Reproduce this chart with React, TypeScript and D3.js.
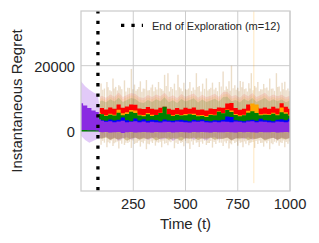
import * as d3 from "d3"

// time grid the curves were read on (exploration ends near t=81)
const timeSteps = [0, 20, 40, 60, 80, 90, ...d3.range(100, 1001, 20)]
const explorationEnd = 81

// upper edge of each noisy mean curve (null = not plotted yet)
const redTop = [null, null, null, null, null, 7000,
	7000, 6600, 7200, 6800, 8100, 7100, 7500, 8100, 8000, 6900,
	6700, 7300, 6800, 6600, 7100, 7400, 6800, 6500, 7000, 6600,
	7100, 6800, 7200, 6500, 6600, 6300, 6900, 6700, 7200, 7100,
	8400, 8600, 7000, 6500, 6800, 8100, 7600, 7200, 6900, 7200,
	6800, 7400, 6900, 8500, 7400, 6800]
const orangeTop = [null, null, null, null, null, 5600,
	5100, 4800, 5300, 5000, 6500, 5400, 5700, 6400, 6300, 5000,
	4900, 5500, 5000, 4900, 5600, 6900, 5000, 4800, 5200, 4900,
	5200, 5300, 5300, 4800, 4900, 4600, 5100, 5000, 6000, 5500,
	6600, 6300, 5200, 4800, 5000, 6200, 8400, 8100, 5100, 5300,
	5100, 5600, 5100, 7200, 5700, 5000]
const greenTop = [400, 500, 300, 300, 300, 5200,
	5100, 4600, 5000, 4700, 5600, 4800, 5200, 5900, 5500, 4700,
	4500, 5100, 4600, 4900, 5500, 7400, 5100, 4600, 5000, 4700,
	4800, 5100, 4900, 4500, 4600, 4300, 4900, 4800, 5900, 5400,
	6400, 5800, 4900, 4500, 4800, 5600, 6000, 5500, 4800, 5000,
	4900, 5300, 4800, 5700, 5300, 4700]
const blueTop = [null, null, null, null, null, 3400,
	3300, 3100, 3500, 3200, 3400, 4100, 3300, 3000, 3800, 3200,
	3600, 3100, 3400, 3300, 3000, 3500, 3200, 3100, 3300, 3400,
	3200, 3000, 3400, 3200, 3500, 3100, 3000, 3300, 3200, 3400,
	4400, 4300, 3300, 3100, 3000, 3200, 3400, 3100, 3700, 3300,
	3200, 3000, 3400, 3600, 3300, 3700]
const purpleTop = [8500, 7800, 7000, 6300, 5800, 3600,
	3100, 2800, 3000, 2700, 2900, 3100, 2700, 2800, 3000, 2700,
	2900, 2600, 2800, 2700, 2600, 2900, 2800, 2700, 2900, 2800,
	2700, 2600, 2900, 2800, 3000, 2700, 2600, 2800, 2700, 2900,
	2800, 2700, 2900, 2800, 2600, 2900, 3000, 2700, 2900, 2800,
	2700, 2600, 2900, 2800, 2700, 2900]
const purpleBottom = [300, 300, 200, 200, 100, -300,
	-400, -300, -500, -400, -300, -600, -400, -300, -500, -400,
	-300, -400, -500, -300, -400, -400, -300, -500, -400, -300,
	-400, -500, -300, -400, -300, -400, -500, -300, -400, -400,
	-300, -400, -500, -300, -400, -300, -400, -500, -300, -400,
	-400, -300, -500, -400, -300, -400]
const seriesFloor = -200

// continuous part of the shaded spread
const redBandTop = [null, null, null, null, null, 10500,
	10800, 10200, 11200, 10500, 11800, 10400, 11000, 11600, 11300, 10300,
	10100, 11000, 10400, 11200, 10600, 11700, 10300, 10900, 10100, 11300,
	10500, 11000, 11500, 10200, 11100, 10400, 10800, 11400, 10500, 11900,
	12000, 10600, 11000, 10200, 11400, 10600, 11600, 10400, 11000, 11700,
	10500, 11200, 10600, 11100, 10300, 10800]
const orangeBandTop = [null, null, null, null, null, 9800,
	10100, 9500, 10500, 9800, 11100, 9700, 10300, 10900, 10600, 9600,
	9400, 10300, 9700, 10500, 9900, 11000, 9600, 10200, 9400, 10600,
	9800, 10300, 10800, 9500, 10400, 9700, 10100, 10700, 9800, 11200,
	11300, 9900, 10300, 9500, 10700, 9900, 10900, 9700, 10300, 11000,
	9800, 10500, 9900, 10400, 9600, 10100]
const greenBandTop = [null, null, null, null, null, 9000,
	9300, 8800, 9700, 9000, 10200, 8900, 9500, 10100, 9800, 8800,
	8600, 9500, 8900, 9700, 9100, 10300, 8800, 9400, 8600, 9800,
	9000, 9500, 10000, 8700, 9600, 8900, 9300, 9900, 9000, 10400,
	10500, 9100, 9500, 8700, 9900, 9100, 10100, 8900, 9500, 10200,
	9000, 9700, 9100, 9600, 8800, 9300]
const bandBottom = [null, null, null, null, null, -2200,
	-2400, -2000, -2800, -2200, -2600, -2100, -3000, -2300, -2000, -2700,
	-2200, -2500, -2000, -2900, -2300, -2100, -2700, -2200, -2400, -3000,
	-2100, -2500, -2000, -2800, -2200, -2400, -2000, -2700, -2300, -2500,
	-2000, -2900, -2200, -2400, -2100, -2800, -2300, -2500, -2000, -2900,
	-2400, -2100, -2700, -2200, -2600, -2100]
const purpleBandTop = [15200, 13700, 12600, 11800, 11200, 7000,
	5200, 4800, 5000, 4700, 5300, 4900, 5100, 4800, 5200, 4900,
	5000, 4700, 5200, 4800, 5100, 4900, 4700, 5100, 4900, 5000,
	4800, 5200, 4900, 4700, 5100, 4900, 5300, 4800, 5000, 4900,
	5100, 4800, 5000, 4900, 5200, 4700, 5100, 4900, 4800, 5000,
	4900, 5100, 4700, 5000, 4900, 4800]
const purpleBandBottom = [-1500, -2800, -3600, -3000, -2400, -2200,
	-2200, -1800, -2600, -2000, -3000, -2300, -1900, -2700, -2100, -2500,
	-2000, -2800, -2200, -1900, -2600, -2400, -2000, -3100, -2200, -1800,
	-2500, -2100, -2700, -2000, -2300, -2900, -2100, -1900, -2600, -2200,
	-2000, -2800, -2300, -2100, -2500, -1900, -2700, -2200, -2000, -2600,
	-2300, -2100, -2800, -2000, -2400, -2200]

// tall narrow spikes of the spread
const spikeTimes = [96, 112, 124, 138, 153, 166, 181, 195, 208, 224,
	241, 256, 270, 284, 298, 313, 327, 342, 356, 371,
	386, 400, 416, 430, 447, 464, 478, 492, 507, 521,
	537, 552, 566, 582, 600, 614, 629, 645, 662, 680,
	695, 708, 720, 736, 750, 762, 775, 789, 803, 815,
	831, 846, 860, 874, 889, 903, 918, 935, 948, 962,
	975, 990]
const spikeTops = [14500, 13000, 15000, 12500, 16100, 13500, 14000, 12800, 15500, 13200,
	19000, 14200, 12800, 15200, 13000, 15600, 12500, 14200, 13400, 15000,
	12800, 17200, 17700, 13500, 14500, 17200, 13000, 14800, 12600, 15000,
	13300, 17700, 13800, 14500, 16100, 12800, 14800, 13200, 15000, 18200,
	13600, 15200, 20000, 14000, 13200, 15300, 15100, 13000, 14600, 17700,
	13800, 15000, 12800, 14400, 13300, 16100, 13000, 17700, 13600, 14800,
	15100, 13000]
const spikeBottoms = [-4200, -3600, -5000, -3800, -4600, -3500, -5400, -3900, -4300, -3700,
	-5200, -4000, -3600, -4800, -3800, -5600, -4100, -3700, -4500, -3600,
	-5000, -3900, -4400, -3500, -5300, -4000, -3700, -4700, -3800, -5500,
	-4200, -3600, -4900, -3900, -4300, -3700, -5100, -4000, -3600, -4600,
	-3800, -5400, -4100, -3700, -4500, -3600, -5000, -3900, -4400, -3500,
	-5200, -4000, -3700, -4800, -3800, -5600, -4100, -3600, -4500, -3700,
	-5000, -3900]
// shorter spikes in between
const minorSpikeTimes = [104, 130, 145, 159, 174, 188, 215, 232, 248, 263,
	277, 291, 305, 320, 335, 349, 363, 379, 393, 408,
	423, 438, 455, 471, 485, 500, 514, 529, 545, 559,
	574, 591, 607, 621, 637, 653, 671, 688, 701, 714,
	728, 743, 756, 769, 782, 796, 809, 823, 838, 853,
	867, 881, 896, 911, 926, 941, 955, 968, 982, 997]
const minorSpikeTops = [12600, 13400, 12200, 13000, 12400, 13600, 12100, 13200, 12800, 12300,
	13500, 12000, 12900, 12400, 13300, 12200, 12700, 13100, 12300, 13800,
	12100, 12900, 12500, 13400, 12200, 12800, 13000, 12300, 12600, 13500,
	12100, 12900, 12400, 13200, 12700, 12200, 13600, 12500, 12900, 12300,
	13100, 12600, 12200, 13400, 12800, 12100, 13000, 12500, 13300, 12200,
	12700, 13100, 12400, 12900, 12300, 13500, 12100, 12800, 12500, 12200]
const minorSpikeBottoms = [-3100, -3500, -2900, -3800, -3200, -3000, -3600, -3300, -2900, -3700,
	-3100, -3400, -3000, -3900, -3200, -2900, -3500, -3300, -3000, -3700,
	-3200, -2900, -3600, -3100, -3400, -3000, -3800, -3200, -2900, -3500,
	-3300, -3000, -3700, -3100, -3400, -2900, -3600, -3200, -3000, -3800,
	-3100, -3300, -2900, -3500, -3200, -3000, -3700, -3400, -3100, -2900,
	-3600, -3200, -3000, -3800, -3300, -3100, -3500, -2900, -3400, -3200]
// one lone wide spread of the orange run
const orangeSpike = [{ t: 827, low: -16000, high: 37000 }]

const xTicks = [250, 500, 750, 1000]
const yTicks = [0, 20000]
const legendLabel = "End of Exploration (m=12)"

const width = 319
const height = 243
const left = 81
const right = 290
const top = 11
const bottom = 191
const font = "'Liberation Sans', Arial, sans-serif"
const textColor = "#262626"
const gridColor = "#cccccc"

const App = () => {
	const x = d3.scaleLinear().domain([0, 1000]).range([left, right])
	const y = d3.scaleLinear().domain([-18400, 36750]).range([bottom, top])

	const band = (hi, lo, curve = d3.curveLinear) =>
		d3
			.area()
			.defined((_, i) => hi[i] != null && lo[i] != null)
			.curve(curve)
			.x((_, i) => x(timeSteps[i]))
			.y0((_, i) => y(lo[i]))
			.y1((_, i) => y(hi[i]))(timeSteps as any)

	const floor = timeSteps.map(() => seriesFloor)

	const bands = [
		{ hi: purpleBandTop, lo: purpleBandBottom, color: "#8a2be2", op: 0.25 },
		{ hi: redBandTop, lo: bandBottom, color: "#ff0000", op: 0.11 },
		{ hi: orangeBandTop, lo: bandBottom, color: "#ffa500", op: 0.11 },
		{ hi: greenBandTop, lo: bandBottom, color: "#008000", op: 0.15 },
	]
	const spikeColors = [
		{ color: "#ff0000", op: 0.08 },
		{ color: "#ffa500", op: 0.07 },
		{ color: "#008000", op: 0.08 },
	]
	const spikeSets = [
		{ times: spikeTimes, tops: spikeTops, bottoms: spikeBottoms, w: 1.4 },
		{ times: minorSpikeTimes, tops: minorSpikeTops, bottoms: minorSpikeBottoms, w: 1.2 },
	]
	const curves = [
		{ hi: redTop, lo: floor, color: "#ff0000" },
		{ hi: orangeTop, lo: floor, color: "#ffa500" },
		{ hi: greenTop, lo: floor, color: "#008000" },
		{ hi: blueTop, lo: floor, color: "#0000ff" },
		{ hi: purpleTop, lo: purpleBottom, color: "#8a2be2" },
	]

	return (
		<svg width={width} height={height} style={{ position: "absolute", left: 0, top: 0 }}>
			<defs>
				<clipPath id="plot">
					<rect x={left} y={top} width={right - left} height={bottom - top} />
				</clipPath>
			</defs>
			<rect x={0} y={0} width={width} height={height} fill="white" />

			{/* grid */}
			{xTicks.map((t) => (
				<line key={"gx" + t} x1={x(t)} x2={x(t)} y1={top} y2={bottom} stroke={gridColor} strokeWidth={1} />
			))}
			{yTicks.map((t) => (
				<line key={"gy" + t} x1={left} x2={right} y1={y(t)} y2={y(t)} stroke={gridColor} strokeWidth={1} />
			))}

			<g clipPath="url(#plot)">
				{bands.map((b, i) => (
					<path key={"b" + i} d={band(b.hi, b.lo) as string} fill={b.color} fillOpacity={b.op} />
				))}
				{spikeSets.map((set, k) =>
					spikeColors.map((s, j) =>
						set.times.map((t, i) => (
							<line
								key={"sp" + k + "-" + j + "-" + i}
								x1={x(t)}
								x2={x(t)}
								y1={y(set.tops[i])}
								y2={y(set.bottoms[i])}
								stroke={s.color}
								strokeOpacity={s.op}
								strokeWidth={set.w}
							/>
						))
					)
				)}
				{orangeSpike.map((s, i) => (
					<line key={"s" + i} x1={x(s.t)} x2={x(s.t)} y1={y(s.high)} y2={y(s.low)} stroke="#ffa500" strokeOpacity={0.25} strokeWidth={1} />
				))}
				{curves.map((c, i) => (
					<path key={"c" + i} d={band(c.hi, c.lo, d3.curveStep) as string} fill={c.color} />
				))}
				<line
					x1={x(explorationEnd)}
					x2={x(explorationEnd)}
					y1={top}
					y2={bottom}
					stroke="black"
					strokeWidth={3.3}
					strokeDasharray="3.3 7.1"
					strokeDashoffset={0.7}
				/>
			</g>

			{/* frame */}
			<rect x={left} y={top} width={right - left} height={bottom - top} fill="none" stroke={gridColor} strokeWidth={1.25} />

			{/* legend */}
			<line x1={121} x2={143} y1={25.3} y2={25.3} stroke="black" strokeWidth={3.3} strokeDasharray="3.3 7.1" />
			<text x={152} y={29.5} fontFamily={font} fontSize={11} fill={textColor}>
				{legendLabel}
			</text>

			{/* ticks */}
			{xTicks.map((t) => (
				<text key={"tx" + t} x={x(t)} y={208.5} textAnchor="middle" fontFamily={font} fontSize={14.7} fill={textColor}>
					{t}
				</text>
			))}
			{yTicks.map((t) => (
				<text key={"ty" + t} x={75} y={y(t) + 6.3} textAnchor="end" fontFamily={font} fontSize={14.7} fill={textColor}>
					{t}
				</text>
			))}

			<text x={(left + right) / 2} y={228.5} textAnchor="middle" fontFamily={font} fontSize={15} fill={textColor}>
				Time (t)
			</text>
			<text
				transform={`translate(22.4, ${(top + bottom) / 2}) rotate(-90)`}
				textAnchor="middle"
				fontFamily={font}
				fontSize={15}
				fill={textColor}
			>
				Instantaneous Regret
			</text>
		</svg>
	)
}

export default App
